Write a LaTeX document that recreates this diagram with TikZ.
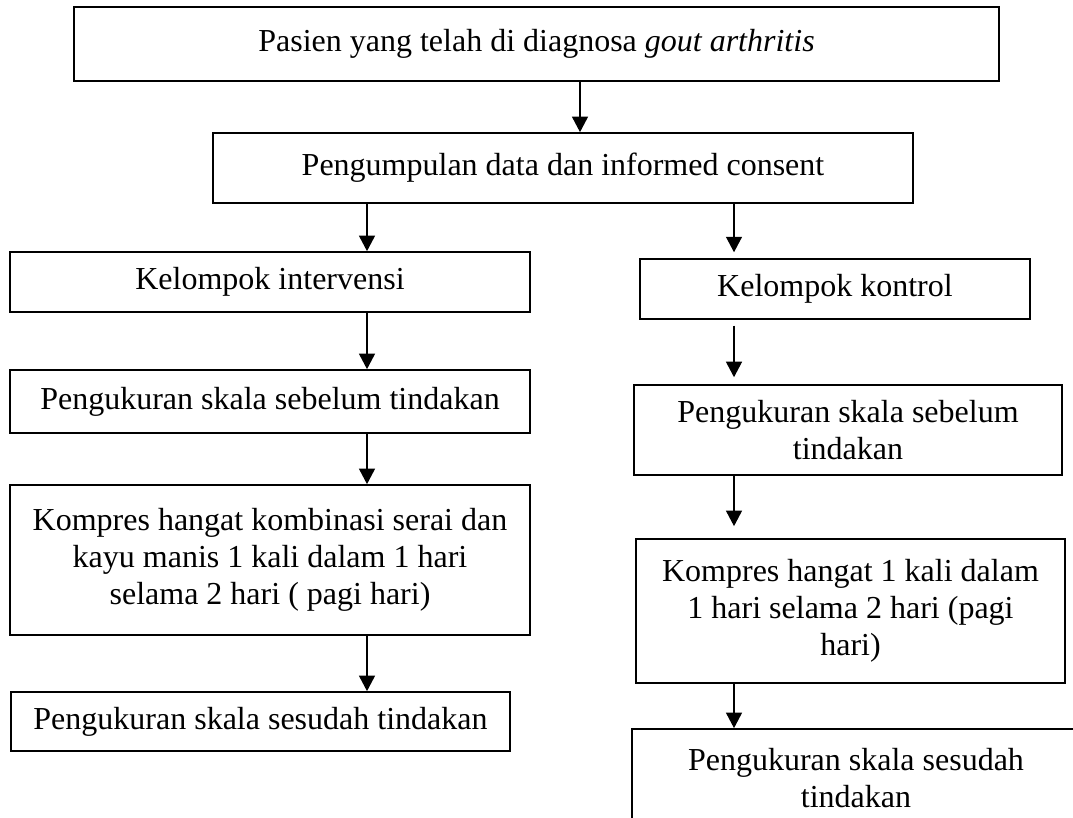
\documentclass[tikz,border=0pt]{standalone}
\usepackage{fontspec}
\setmainfont{Liberation Serif}
\usetikzlibrary{positioning,arrows.meta}
\newcommand{\pxu}{0.375pt}
\tikzset{alurpx/.style={x=0.375pt,y=-0.375pt}}

\begin{document}
\begin{tikzpicture}[alurpx,
  kotak/.style={draw=black,line width=0.65pt,fill=white,align=center,inner sep=0pt,
    font=\fontsize{12}{13.8}\selectfont},
  panah/.style={-{Triangle[length=5.8pt,width=6pt]},line width=0.45pt,black}]
  \useasboundingbox (0,0) rectangle (1073,818);
  \node[kotak,minimum width=925*\pxu,minimum height=74*\pxu] (pasien) at (536.5,44) {Pasien yang telah di diagnosa \textit{gout arthritis}};
  \node[kotak,minimum width=700*\pxu,minimum height=70*\pxu] (pengumpulan) at (563,168) {Pengumpulan data dan informed consent};
  \node[kotak,minimum width=520*\pxu,minimum height=60*\pxu] (intervensi) at (270,282) {Kelompok intervensi};
  \node[kotak,minimum width=520*\pxu,minimum height=63*\pxu] (sebelumA) at (270,401.5) {Pengukuran skala sebelum tindakan};
  \node[kotak,minimum width=520*\pxu,minimum height=150*\pxu] (kompresA) at (270,560) {Kompres hangat kombinasi serai dan\\kayu manis 1 kali dalam 1 hari\\selama 2 hari ( pagi hari)};
  \node[kotak,minimum width=499*\pxu,minimum height=59*\pxu] (sesudahA) at (260.5,721.5) {Pengukuran skala sesudah tindakan};
  \node[kotak,minimum width=390*\pxu,minimum height=60*\pxu] (kontrol) at (835,289) {Kelompok kontrol};
  \node[kotak,minimum width=428*\pxu,minimum height=90*\pxu] (sebelumB) at (848,430) {Pengukuran skala sebelum\\tindakan};
  \node[kotak,minimum width=429*\pxu,minimum height=144*\pxu] (kompresB) at (850.5,611) {Kompres hangat 1 kali dalam\\1 hari selama 2 hari (pagi\\hari)};
  \node[kotak,minimum width=448*\pxu,minimum height=98*\pxu] (sesudahB) at (856,778) {Pengukuran skala sesudah\\tindakan};
  \coordinate (kolatas) at (580,0);
  \coordinate (kolkiri) at (367,0);
  \coordinate (kolkanan) at (734,0);
  \draw[panah] (kolatas |- pasien.south) -- (kolatas |- pengumpulan.north);
  \draw[panah] (kolkiri |- pengumpulan.south) -- (kolkiri |- intervensi.north);
  \draw[panah] (kolkiri |- intervensi.south) -- (kolkiri |- sebelumA.north);
  \draw[panah] (kolkiri |- sebelumA.south) -- (kolkiri |- kompresA.north);
  \draw[panah] (kolkiri |- kompresA.south) -- (kolkiri |- sesudahA.north);
  \draw[panah,shorten >=2.2pt] (kolkanan |- pengumpulan.south) -- (kolkanan |- kontrol.north);
  \draw[panah,shorten <=2.2pt,shorten >=2.6pt] (kolkanan |- kontrol.south) -- (kolkanan |- sebelumB.north);
  \draw[panah,shorten >=4.5pt] (kolkanan |- sebelumB.south) -- (kolkanan |- kompresB.north);
  \draw[panah] (kolkanan |- kompresB.south) -- (kolkanan |- sesudahB.north);
\end{tikzpicture}
\end{document}
